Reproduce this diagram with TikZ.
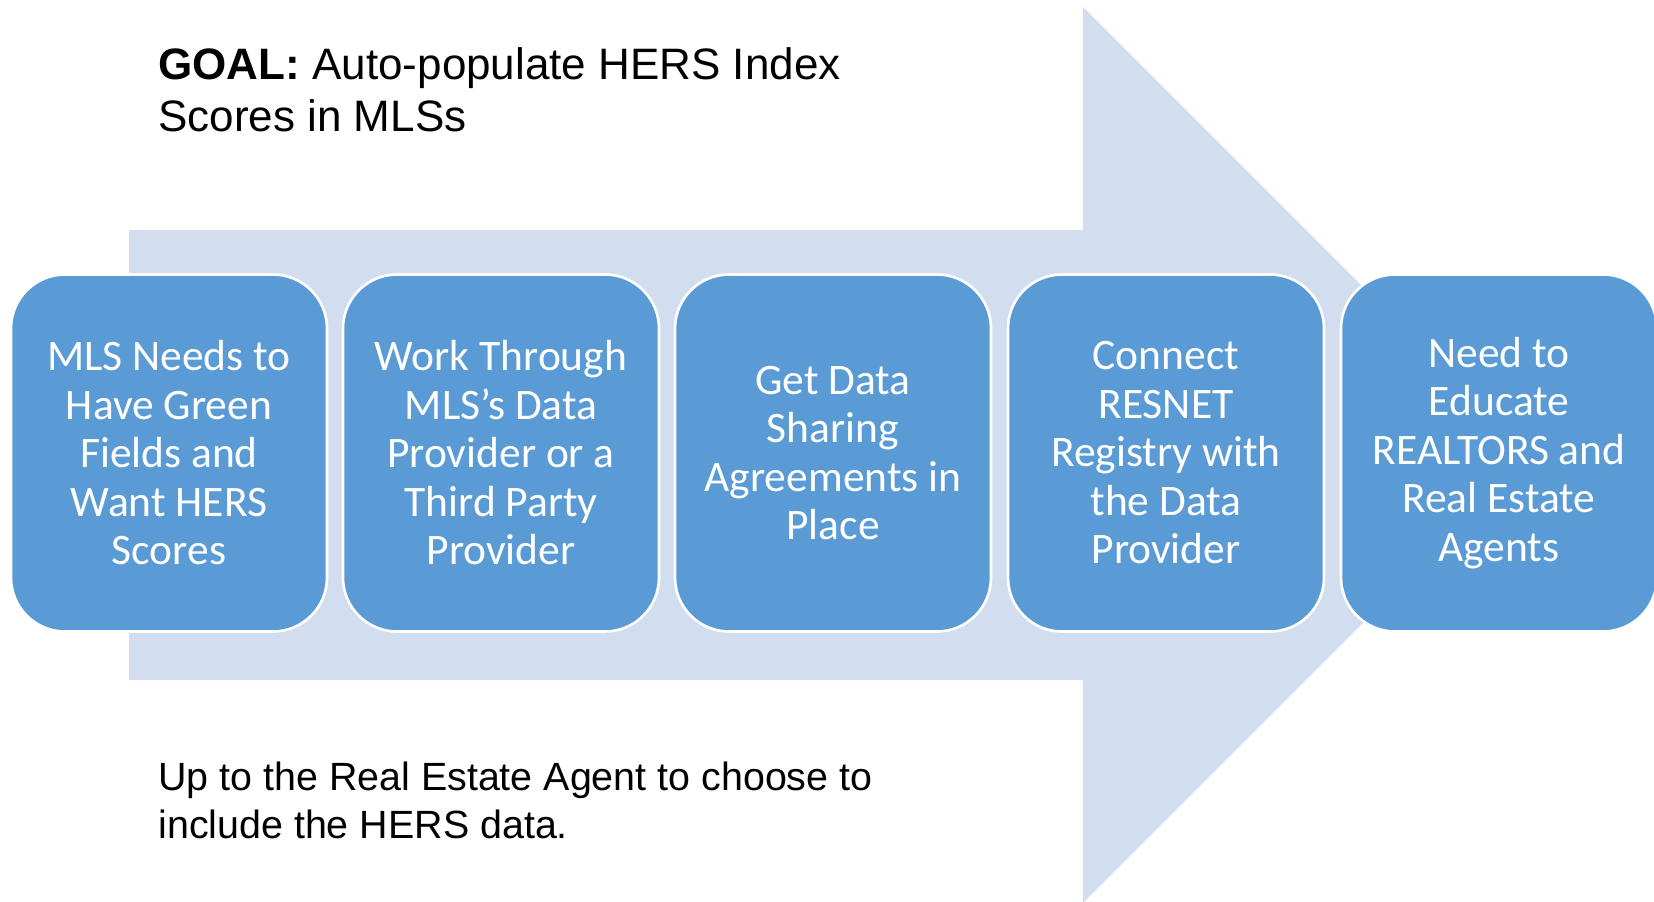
\documentclass[tikz,border=0pt]{standalone}
\usepackage{fontspec}
\setmainfont{Liberation Sans}
\newfontfamily\boxfont{Carlito}
\usepackage{tikz}
\definecolor{arrowblue}{RGB}{210,222,239}
\definecolor{stepblue}{RGB}{91,155,213}
\tikzset{
    stepbox/.style={draw=white, line width=1.3pt, fill=stepblue, rounded corners=27pt,
        minimum width=158pt, minimum height=178.5pt, inner sep=0pt, text=white,
        align=center, font=\boxfont\fontsize{21.75}{24.25}\selectfont},
    textblock/.style={anchor=north west, inner sep=0pt, align=left}
}

\begin{document}
\begin{tikzpicture}[x=0.5pt,y=-0.5pt]
        \useasboundingbox (0,0) rectangle (1654,901);

        % big arrow
        \fill[arrowblue] (129,230) -- (1083,230) -- (1083,7) -- (1531,455)
            -- (1083,903) -- (1083,680) -- (129,680) -- cycle;

        % steps
        \node[stepbox] (mls) at (169,453) {MLS Needs to\\Have Green\\Fields and\\Want HERS\\Scores};
        \node[stepbox] (provider) at (501,453) {Work Through\\MLS’s Data\\Provider or a\\Third Party\\Provider};
        \node[stepbox] (sharing) at (833,453) {Get Data\\Sharing\\Agreements in\\Place};
        \node[stepbox] (registry) at (1166,453) {Connect\\RESNET\\Registry with\\the Data\\Provider};
        \node[stepbox] (educate) at (1499,453) {Need to\\Educate\\REALTORS and\\Real Estate\\Agents};

        % goal and note
        \node[textblock, font=\fontsize{22}{26}\selectfont] (goal) at (158,47)
            {\textbf{GOAL:} Auto-populate HERS Index\\Scores in MLSs};
        \node[textblock, font=\fontsize{19.7}{24}\selectfont] (note) at (158,762)
            {Up to the Real Estate Agent to choose to\\include the HERS data.};

    \end{tikzpicture}
\end{document}
